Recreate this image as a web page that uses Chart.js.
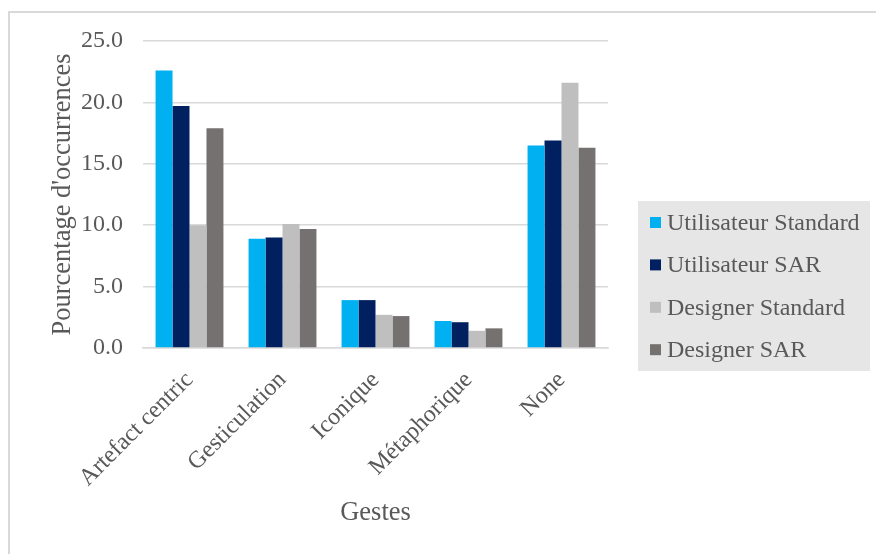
<!DOCTYPE html>
<html>
<head>
<meta charset="utf-8">
<script src="https://cdn.jsdelivr.net/npm/chart.js@4"></script>
<style>
  html, body { margin: 0; padding: 0; background: #fff; }
  #wrap { width: 876px; height: 554px; position: relative; }
</style>
</head>
<body>
<div id="wrap"><canvas id="chart"></canvas></div>
<script>
// ---------------- DATA ----------------
const categories = ['Artefact centric', 'Gesticulation', 'Iconique', 'Métaphorique', 'None'];
const utilisateurStandard = [22.6, 8.9, 3.9, 2.2, 16.5];
const utilisateurSAR      = [19.7, 9.0, 3.9, 2.1, 16.9];
const designerStandard    = [10.0, 10.1, 2.7, 1.4, 21.6];
const designerSAR         = [17.9, 9.7, 2.6, 1.6, 16.3];
const seriesLabels = ['Utilisateur Standard', 'Utilisateur SAR', 'Designer Standard', 'Designer SAR'];
const seriesColors = ['#00b0f0', '#002060', '#bfbfbf', '#767171'];
const yTicks = [0, 5, 10, 15, 20, 25];

const TEXT = '#595959';
const GRID = '#d9d9d9';
const SERIF = "'Liberation Serif', 'Times New Roman', serif";

// cadre gris (bord gauche + haut)
const framePlugin = {
  id: 'frame',
  beforeDraw(chart) {
    const c = chart.ctx;
    c.save();
    c.strokeStyle = GRID;
    c.lineWidth = 2;
    c.beginPath();
    c.moveTo(9, 554);
    c.lineTo(9, 12);
    c.lineTo(876, 12);
    c.stroke();
    c.restore();
  }
};

// légende sur fond gris, dessinée à la main
const legendBox = {
  id: 'legendBox',
  afterDraw(chart) {
    const c = chart.ctx;
    c.save();
    c.fillStyle = '#e7e6e6';
    c.fillRect(638, 201, 232, 170);
    c.font = '24px ' + SERIF;
    c.textBaseline = 'middle';
    chart.data.datasets.forEach((ds, i) => {
      const y = 222.5 + i * 42.4;
      c.fillStyle = ds.backgroundColor;
      c.fillRect(650, y - 5.5, 11, 11);
      c.fillStyle = TEXT;
      c.fillText(ds.label, 667, y + 1);
    });
    c.restore();
  }
};

const seriesData = [utilisateurStandard, utilisateurSAR, designerStandard, designerSAR];

new Chart(document.getElementById('chart'), {
  type: 'bar',
  data: {
    labels: categories,
    datasets: seriesLabels.map((label, i) => ({
      label,
      data: seriesData[i],
      backgroundColor: seriesColors[i],
      borderWidth: 0,
      categoryPercentage: 0.73,
      barPercentage: 1.0
    }))
  },
  options: {
    responsive: true,
    maintainAspectRatio: false,
    animation: false,
    layout: { padding: { left: 0, right: 268, top: 41, bottom: 0 } },
    plugins: {
      legend: { display: false },
      tooltip: { enabled: false }
    },
    scales: {
      x: {
        grid: { display: false },
        border: { color: GRID, width: 1.5 },
        ticks: {
          color: TEXT,
          font: { family: SERIF, size: 24 },
          minRotation: 45,
          maxRotation: 45,
          padding: 10
        },
        title: {
          display: true,
          text: 'Gestes',
          color: TEXT,
          font: { family: SERIF, size: 26.5 },
          padding: { top: 0, bottom: 25 }
        },
        afterFit: s => { s.height = 206; }
      },
      y: {
        min: 0,
        max: 25,
        afterBuildTicks: s => { s.ticks = yTicks.map(v => ({ value: v })); },
        grid: { color: GRID, lineWidth: 1.5, drawTicks: false },
        border: { display: false },
        ticks: {
          color: TEXT,
          font: { family: SERIF, size: 24 },
          padding: 20,
          callback: v => v.toFixed(1)
        },
        title: {
          display: true,
          text: "Pourcentage d'occurrences",
          color: TEXT,
          font: { family: SERIF, size: 26.5 },
          padding: { top: 47, bottom: 0 }
        },
        afterFit: s => { s.width = 143; }
      }
    }
  },
  plugins: [framePlugin, legendBox]
});
</script>
</body>
</html>
